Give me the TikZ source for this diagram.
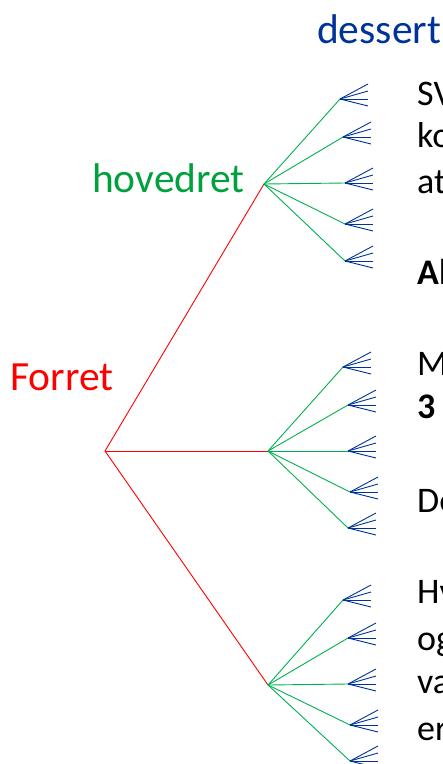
\documentclass[tikz,border=0pt]{standalone}
\usepackage{fontspec}
\setmainfont{Carlito}
\usetikzlibrary{positioning}
\definecolor{forretcolor}{RGB}{255,0,0}
\definecolor{hovedcolor}{RGB}{0,176,80}
\definecolor{hovedtext}{RGB}{0,160,60}
\definecolor{dessertcolor}{RGB}{0,51,153}

\begin{document}
\begin{tikzpicture}[
    x=1pt, y=-1pt,
    course/.style={font=\fontsize{41.5}{48}\selectfont, text=#1, anchor=base west, inner sep=0pt},
    note/.style={font=\fontsize{36}{44}\selectfont, anchor=base west, inner sep=0pt},
    branch/.style={draw=#1, line width=0.9pt}
]
    \useasboundingbox (0,0) rectangle (443,764);
    \clip (0,0) rectangle (443,764);

    % Courses
    \node[course=forretcolor] (forret) at (10,390) {Forret};
    \node[course=hovedtext] (hovedret) at (92,192) {hovedret};
    \node[course=dessertcolor] (dessert) at (317,43) {dessert};

    % Tree: starter -> main course
    \coordinate (root) at (105,451);
    \coordinate (m1) at (264,184);
    \coordinate (m2) at (268,451);
    \coordinate (m3) at (268,685);
    \foreach \m in {m1,m2,m3}
        \draw[branch=forretcolor] (root) -- (\m);

    % main course -> dessert fans
    \foreach \m/\i/\x/\y in {m1/1/340/99, m1/2/343/137, m1/3/345/183, m1/4/345/224, m1/5/345/261,
                             m2/1/343/367, m2/2/348/405, m2/3/348/451, m2/4/350/492, m2/5/348/528,
                             m3/1/343/600, m3/2/348/638, m3/3/348/684, m3/4/350/725, m3/5/350/761} {
        \coordinate (\m-\i) at (\x,\y);
        \draw[branch=hovedcolor] (\m) -- (\m-\i);
        \foreach \dy [count=\k] in {-15,-8,0,7}
            \draw[branch=dessertcolor] (\m-\i) -- ++(28,\dy) coordinate (\m-\i-\k);
    }

    % Notes on the right
    \node[note] (n1) at (417,105) {SV};
    \node[note] (n2) at (417,147) {ko};
    \node[note] (n3) at (417,193) {at};
    \node[note] (n4) at (417,284) {\textbf{Al}};
    \node[note] (n5) at (417,375) {M};
    \node[note] (n6) at (417,418) {\textbf{3}};
    \node[note] (n7) at (417,512) {De};
    \node[note] (n8) at (417,603) {Hv};
    \node[note] (n9) at (417,650) {og};
    \node[note] (n10) at (417,693) {va};
    \node[note] (n11) at (417,740) {er};
\end{tikzpicture}
\end{document}
